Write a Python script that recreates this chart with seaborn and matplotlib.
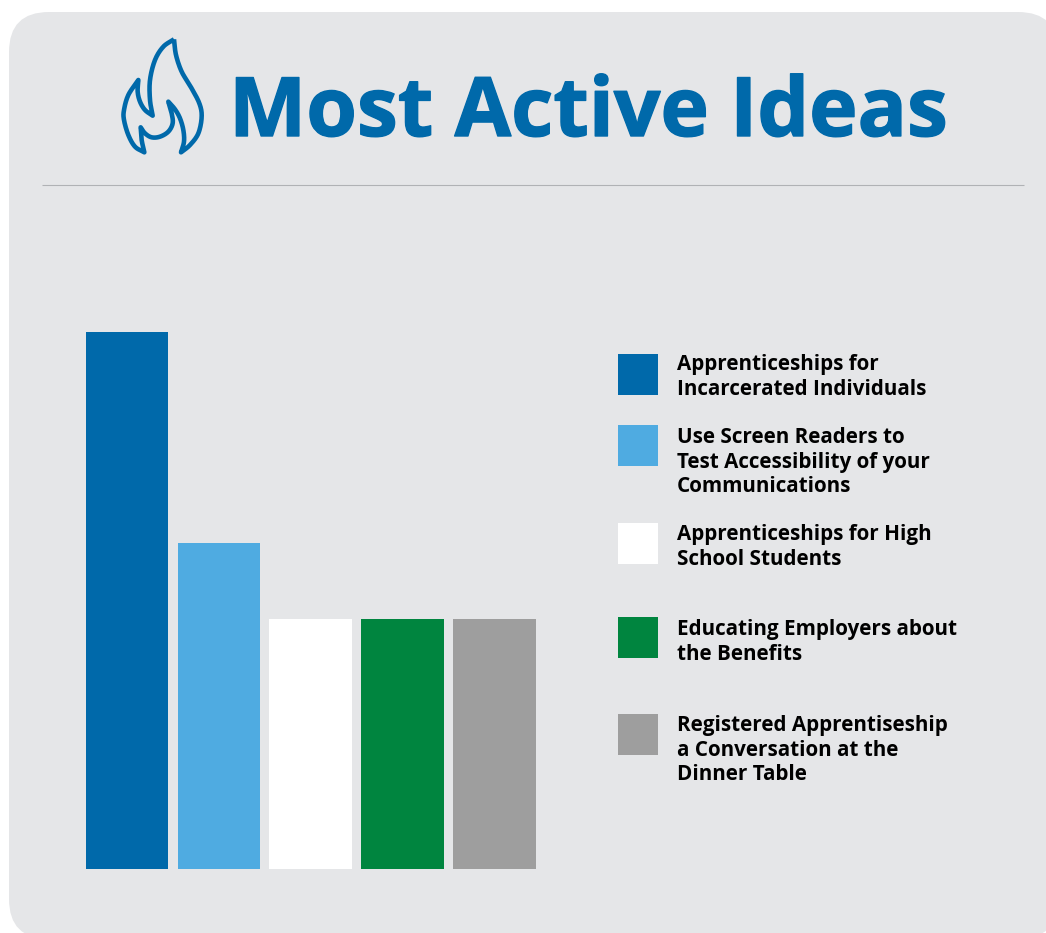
import numpy as np
import pandas as pd
import matplotlib
matplotlib.use("Agg")
import matplotlib.pyplot as plt
import matplotlib.patheffects as pe
from matplotlib.patches import FancyBboxPatch, Rectangle, PathPatch
from matplotlib.path import Path
import seaborn as sns

# Chart content
title = "Most Active Ideas"
ideas = [
    "Apprenticeships for\nIncarcerated Individuals",
    "Use Screen Readers to\nTest Accessibility of your\nCommunications",
    "Apprenticeships for High\nSchool Students",
    "Educating Employers about\nthe Benefits",
    "Registered Apprentiseship\na Conversation at the\nDinner Table",
]
activity = [28, 17, 13, 13, 13]
colors = ["#0069AA", "#4FABE1", "#FFFFFF", "#00853F", "#9E9E9E"]

W, H = 1046, 933
PANEL = "#E5E6E8"
BLUE = "#0069AA"

sns.set_theme(style="white")
plt.rcParams["font.family"] = ["Open Sans", "DejaVu Sans"]

fig = plt.figure(figsize=(W / 100, H / 100), dpi=100, facecolor="white")

# Pixel-space layer for the card, rule, flame icon, title and key
bg = fig.add_axes([0, 0, 1, 1], zorder=0)
bg.set_xlim(0, W)
bg.set_ylim(H, 0)
bg.axis("off")

radius = 40
bg.add_patch(FancyBboxPatch((9 + radius, 12 + radius), 1058 - 9 - 2 * radius, 939 - 12 - 2 * radius,
                            boxstyle=f"round,pad={radius},rounding_size={radius}",
                            fc=PANEL, ec="none"))
bg.plot([42, 1024], [185, 185], color="#B0B2B5", lw=0.8, solid_capstyle="butt")


def smooth(points, n=14):
    """Catmull-Rom curve through a run of points, keeping the end points sharp."""
    p = np.array(points, float)
    p = np.vstack([2 * p[0] - p[1], p, 2 * p[-1] - p[-2]])
    out = []
    for i in range(1, len(p) - 2):
        t = np.linspace(0, 1, n, endpoint=False)[:, None]
        out.append(0.5 * (2 * p[i] + (p[i + 1] - p[i - 1]) * t
                          + (2 * p[i - 1] - 5 * p[i] + 4 * p[i + 1] - p[i + 2]) * t ** 2
                          + (3 * p[i] - p[i - 1] - 3 * p[i + 1] + p[i + 2]) * t ** 3))
    return np.vstack(out)


# Flame outline, one smooth run between each pair of sharp tips
flame_runs = [
    [(222, 58), (228, 105), (245, 155), (272, 200), (298, 250), (305, 290), (295, 340), (270, 375), (243, 397)],
    [(243, 397), (252, 365), (250, 330), (240, 295), (225, 268), (205, 245)],
    [(205, 245), (215, 280), (218, 310), (205, 335), (180, 350), (155, 352), (135, 340), (122, 322)],
    [(122, 322), (125, 360), (133, 397)],
    [(133, 397), (105, 380), (85, 345), (72, 300), (72, 270), (85, 225), (115, 180)],
    [(115, 180), (113, 215), (120, 245), (135, 270), (158, 287)],
    [(158, 287), (150, 240), (150, 180), (165, 120), (190, 80), (222, 58)],
]
flame = np.vstack([smooth(r) for r in flame_runs] + [[flame_runs[0][0]]]) / 3 + [100, 20]
bg.add_patch(PathPatch(Path(flame, closed=False), fc="none", ec=BLUE, lw=3.3, joinstyle="round"))

bg.text(229, 136, title, color=BLUE, fontsize=59, fontweight="bold", va="baseline", ha="left",
        path_effects=[pe.withStroke(linewidth=1.0, foreground=BLUE)])

# Key: swatches with wrapped labels
key_swatch_top = [354, 425, 523, 617, 714]
key_text_top = [354, 427, 524, 619, 715]
for label, color, sy, ty in zip(ideas, colors, key_swatch_top, key_text_top):
    bg.add_patch(Rectangle((618, sy), 40, 41, fc=color, ec="none"))
    bg.text(677, ty, label, color="black", fontsize=14.85, fontweight="bold",
            va="top", ha="left", linespacing=1.22)

# Bars
plot_left, plot_right, plot_top, plot_bottom = 81.1, 540.2, 332, 868.5
ax = fig.add_axes([plot_left / W, 1 - plot_bottom / H,
                   (plot_right - plot_left) / W, (plot_bottom - plot_top) / H], zorder=1)
df = pd.DataFrame({"idea": ideas, "activity": activity})
sns.barplot(data=df, x="idea", y="activity", hue="idea", palette=colors, dodge=False,
            width=0.9, legend=False, saturation=1, linewidth=0, edgecolor="none", ax=ax)
ax.set_xlim(-0.5, 4.5)
ax.set_ylim(0, max(activity))
ax.patch.set_visible(False)
ax.set_xticks([])
ax.set_yticks([])
ax.set_xlabel("")
ax.set_ylabel("")
sns.despine(ax=ax, left=True, bottom=True)

fig.savefig("out.png", dpi=100, facecolor="white")
